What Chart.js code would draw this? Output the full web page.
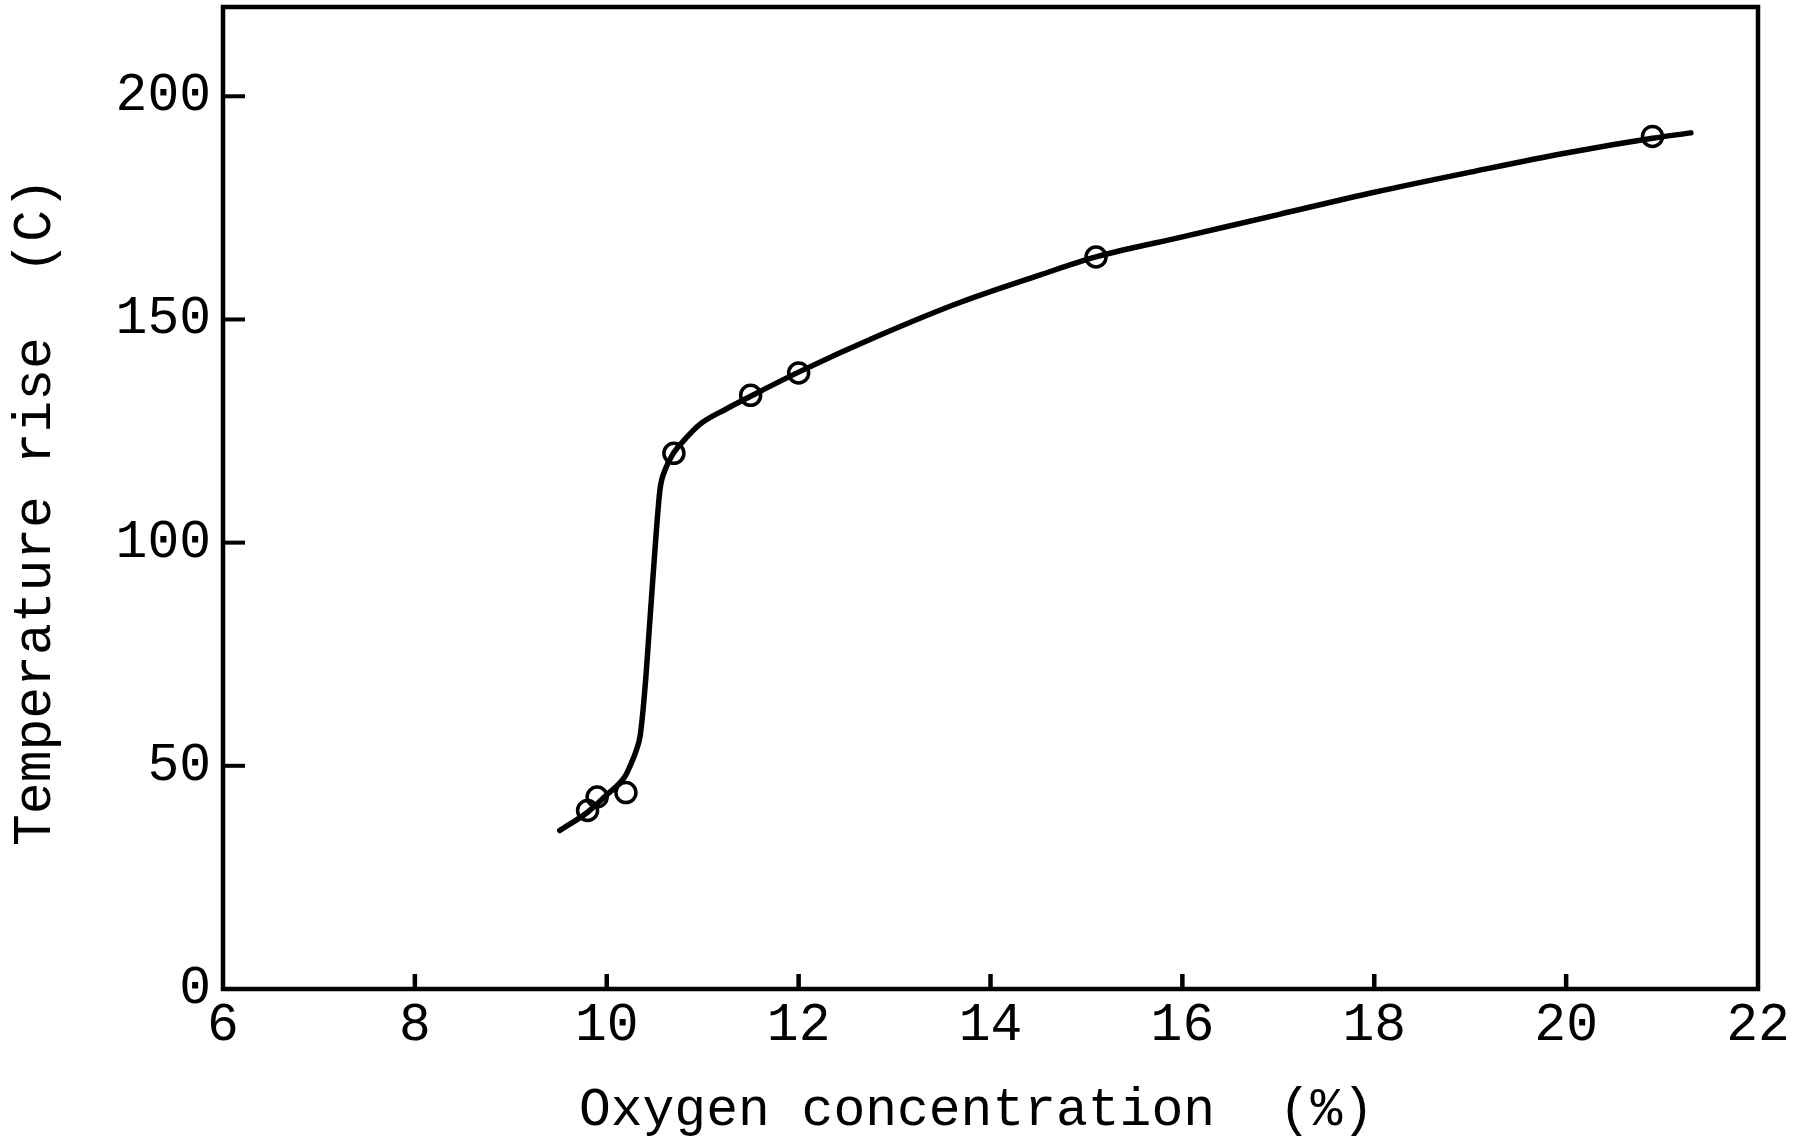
<!doctype html>
<html lang="en">

<head>
  <meta charset="utf-8">
  <title>Temperature rise vs oxygen concentration</title>
  <style>
    * {
      margin: 0;
      padding: 0;
    }

    body {
      background: white;
    }

    canvas {
      display: block;
    }
  </style>
</head>

<body>
  <canvas id="myChart" width="1806" height="1140"></canvas>
  <script src="https://cdn.jsdelivr.net/npm/chart.js/dist/chart.umd.min.js"></script>
  <script>
    // measured points
    const oxygenPct = [9.8, 9.9, 10.2, 10.7, 11.5, 12.0, 15.1, 20.9];
    const tempRise = [40, 43, 44, 120, 133, 138, 164, 191];

    // hand-fitted curve through the measurements
    const curveX = [9.51, 9.8, 10.0, 10.19, 10.24, 10.31, 10.35, 10.40, 10.45, 10.50, 10.555, 10.61, 10.7, 10.8, 10.97, 11.25, 11.5, 12.0, 12.85, 13.68, 14.52, 15.1, 16, 17, 18, 19, 20, 20.9, 21.3];
    const curveY = [35.5, 39.6, 43.5, 47.6, 49.8, 53.6, 57, 67.8, 82.7, 97.7, 111.9, 116.4, 120.2, 122.8, 126.5, 130, 132.8, 138.2, 146.5, 153.8, 160.0, 164, 168.5, 173.5, 178.5, 183, 187.3, 190.6, 191.8];

    // axis ticks
    const xTicks = [6, 8, 10, 12, 14, 16, 18, 20, 22];
    const yTicks = [0, 50, 100, 150, 200];

    const xTitle = 'Oxygen concentration  (%)';
    const yTitle = 'Temperature rise  (C)';

    const FONT = 'Liberation Mono';
    const FONT_SIZE = 53;

    const data = {
      datasets: [{
        type: 'line',
        label: 'fit',
        data: curveX.map((x, i) => ({ x, y: curveY[i] })),
        borderColor: 'black',
        borderWidth: 5.5,
        borderCapStyle: 'round',
        cubicInterpolationMode: 'monotone',
        pointRadius: 0,
        fill: false
      }, {
        type: 'scatter',
        label: 'measured',
        data: oxygenPct.map((x, i) => ({ x, y: tempRise[i] })),
        borderColor: 'black',
        backgroundColor: 'rgba(0,0,0,0)',
        borderWidth: 3.5,
        pointRadius: 10,
        pointHoverRadius: 10
      }]
    };

    // box round the plot, inward tick marks and the two axis titles
    const frameAndTicks = {
      id: 'frameAndTicks',
      afterDraw(chart) {
        const { ctx, chartArea } = chart;
        const { left, right, top, bottom } = chartArea;
        const xs = chart.scales.x;
        const ys = chart.scales.y;
        ctx.save();
        ctx.fillStyle = 'black';
        xs.ticks.forEach(t => {
          if (t.value <= xs.min || t.value >= xs.max) return;
          const px = xs.getPixelForValue(t.value);
          ctx.fillRect(px - 2.25, bottom - 15, 4.5, 15);
        });
        ys.ticks.forEach(t => {
          if (t.value <= ys.min) return;
          const py = ys.getPixelForValue(t.value);
          ctx.fillRect(left, py - 2, 22, 4);
        });

        ctx.strokeStyle = 'black';
        ctx.lineWidth = 4.5;
        ctx.strokeRect(left, top, right - left, bottom - top);

        ctx.font = FONT_SIZE + 'px "' + FONT + '"';
        ctx.textAlign = 'center';
        ctx.textBaseline = 'middle';
        ctx.fillText(xTitle, (left + right) / 2 - 14, bottom + 122);

        ctx.translate(35.5, (top + bottom) / 2 + 14);
        ctx.rotate(-Math.PI / 2);
        ctx.fillText(yTitle, 0, 0);
        ctx.restore();
      }
    };

    const config = {
      data,
      options: {
        responsive: false,
        devicePixelRatio: 1,
        animation: false,
        events: [],
        layout: {
          autoPadding: false,
          padding: { left: 0, right: 48, top: 7, bottom: 0 }
        },
        plugins: {
          legend: { display: false },
          tooltip: { enabled: false }
        },
        scales: {
          x: {
            type: 'linear',
            min: 6,
            max: 22,
            grid: { display: false, drawTicks: false },
            border: { display: false },
            afterBuildTicks: (scale) => {
              scale.ticks = xTicks.map(v => ({ value: v }));
            },
            ticks: {
              padding: 10,
              color: 'black',
              maxRotation: 0,
              autoSkip: false,
              font: { family: FONT, size: FONT_SIZE, lineHeight: 1 }
            },
            afterFit: (scale) => {
              scale.height = 151;
              scale.paddingLeft = 0;
              scale.paddingRight = 0;
            }
          },
          y: {
            type: 'linear',
            min: 0,
            max: 220,
            grid: { display: false, drawTicks: false },
            border: { display: false },
            afterBuildTicks: (scale) => {
              scale.ticks = yTicks.map(v => ({ value: v }));
            },
            ticks: {
              padding: 12,
              color: 'black',
              autoSkip: false,
              font: { family: FONT, size: FONT_SIZE, lineHeight: 1 }
            },
            afterFit: (scale) => {
              scale.width = 223;
              scale.paddingTop = 0;
              scale.paddingBottom = 0;
            }
          }
        }
      },
      plugins: [frameAndTicks]
    };

    const myChart = new Chart(document.getElementById('myChart'), config);
  </script>
</body>

</html>
